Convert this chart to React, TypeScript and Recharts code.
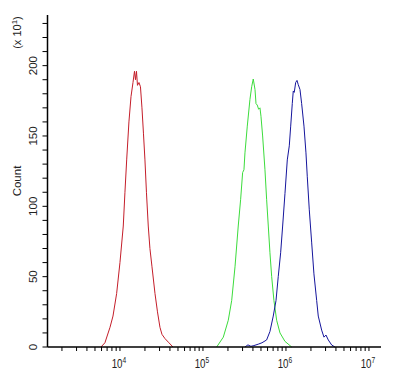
import { LineChart, Line, XAxis, YAxis } from "recharts"

// log10 of fluorescence intensity and count (x10^1) for each histogram
const redLog = [3.771, 3.819, 3.88, 3.916, 3.96, 4.0, 4.04, 4.06, 4.081, 4.108, 4.133, 4.157, 4.175, 4.187, 4.199, 4.211, 4.229, 4.247, 4.265, 4.283, 4.301, 4.319, 4.341, 4.361, 4.386, 4.422, 4.452, 4.482, 4.506, 4.542, 4.59, 4.639]
const redCount = [0, 3, 14, 22, 38, 60, 86, 110, 133, 160, 178, 188, 196, 190, 196, 186, 188, 185, 170, 152, 133, 110, 86, 70, 57, 38, 25, 14, 9, 6, 3, 0]

const greenLog = [5.165, 5.245, 5.305, 5.346, 5.386, 5.425, 5.454, 5.478, 5.494, 5.506, 5.534, 5.566, 5.587, 5.606, 5.627, 5.639, 5.654, 5.671, 5.687, 5.699, 5.719, 5.747, 5.767, 5.787, 5.807, 5.828, 5.855, 5.888, 5.928, 5.988, 6.069]
const greenCount = [0, 7, 19, 33, 57, 86, 105, 124, 126, 138, 157, 176, 185, 190.5, 183, 173, 172, 169, 170, 164, 150, 126, 105, 86, 67, 50, 33, 19, 10, 4, 0]

const blueLog = [5.506, 5.542, 5.578, 5.614, 5.666, 5.711, 5.767, 5.807, 5.847, 5.88, 5.907, 5.936, 5.96, 5.988, 6.016, 6.04, 6.057, 6.076, 6.088, 6.1, 6.117, 6.133, 6.148, 6.169, 6.189, 6.217, 6.241, 6.257, 6.281, 6.31, 6.337, 6.37, 6.389, 6.43, 6.458, 6.482, 6.51, 6.551, 6.59]
const blueCount = [0, 1.5, 0.5, 1, 2, 3, 5, 11, 22, 33, 50, 67, 86, 109, 133, 143, 157, 173, 182, 181, 188, 189.5, 186.5, 183, 173, 157, 138, 121, 97.5, 74, 52, 33, 22, 12, 7, 8.5, 5, 1.4, 0]

const decades = [3, 4, 5, 6, 7]
const steps = [1, 2, 3, 4, 5, 6, 7, 8, 9]
const yTicks = [0, 10, 20, 30, 40, 50, 60, 70, 80, 90, 100, 110, 120, 130, 140, 150, 160, 170, 180, 190, 200, 210, 220, 230]

const xMin = 10 ** 3.127
const xMax = 10 ** 7.145
const xTicks = decades.flatMap((d) => steps.map((k) => k * 10 ** d)).filter((v) => v >= xMin && v <= xMax)

const toPoints = (logs: number[], counts: number[]) => logs.map((l, i) => ({ x: 10 ** l, y: counts[i] }))

const font = "'Liberation Sans', Arial, sans-serif"

function XTick(props: any) {
  const { x, y, payload } = props
  const v = payload.value
  const e = Math.round(Math.log10(v))
  const major = Math.abs(v - 10 ** e) < v * 1e-6
  return (
    <g>
      <line x1={x} x2={x} y1={y} y2={y + 4} stroke="#000" strokeWidth={1} />
      {major && (
        <text
          transform={`translate(${x - 1},${y + 21.3}) scale(0.78,1)`}
          textAnchor="middle"
          fontSize={12.5}
          fontFamily={font}
          fill="#222"
        >
          <tspan>10</tspan>
          <tspan dy={-5} fontSize={8.5}>{e}</tspan>
        </text>
      )}
    </g>
  )
}

function YTick(props: any) {
  const { x, y, payload } = props
  const v = payload.value
  return (
    <g>
      <line x1={x - 5} x2={x} y1={y} y2={y} stroke="#000" strokeWidth={1} />
      {v % 50 === 0 && (
        <text transform={`translate(${x - 10.3},${y}) rotate(-90)`} textAnchor="middle" fontSize={11.5} fontFamily={font} fill="#222">
          {v}
        </text>
      )}
    </g>
  )
}

export default function App() {
  return (
    <div style={{ position: "absolute", left: 0, top: 0, width: 404, height: 377, background: "#fff" }}>
      <LineChart width={404} height={377} margin={{ top: 15, right: 23, bottom: 0, left: 0 }}>
        <XAxis
          dataKey="x"
          type="number"
          scale="log"
          domain={[xMin, xMax]}
          allowDataOverflow
          ticks={xTicks}
          interval={0}
          height={30}
          tickSize={0}
          tickMargin={0}
          tickLine={false}
          tick={<XTick />}
          axisLine={{ stroke: "#000", strokeWidth: 1.5 }}
        />
        <XAxis xAxisId="top" orientation="top" type="number" domain={[0, 1]} height={0} tick={false} tickLine={false} axisLine={{ stroke: "#000", strokeWidth: 1.5 }} />
        <YAxis
          type="number"
          domain={[0, 236]}
          ticks={yTicks}
          interval={0}
          width={47.5}
          tickSize={0}
          tickMargin={0}
          tickLine={false}
          tick={<YTick />}
          axisLine={{ stroke: "#000", strokeWidth: 1.5 }}
        />
        <YAxis yAxisId="right" orientation="right" type="number" domain={[0, 1]} width={0} tick={false} tickLine={false} axisLine={{ stroke: "#000", strokeWidth: 1.5 }} />
        <Line data={toPoints(redLog, redCount)} dataKey="y" type="linear" stroke="#c41e2a" strokeWidth={1} dot={false} isAnimationActive={false} />
        <Line data={toPoints(greenLog, greenCount)} dataKey="y" type="linear" stroke="#3cdc3c" strokeWidth={1} dot={false} isAnimationActive={false} />
        <Line data={toPoints(blueLog, blueCount)} dataKey="y" type="linear" stroke="#15159c" strokeWidth={1} dot={false} isAnimationActive={false} />
      </LineChart>
      <svg width={404} height={377} style={{ position: "absolute", left: 0, top: 0, pointerEvents: "none" }}>
        <text transform="translate(20.5,181) rotate(-90)" textAnchor="middle" fontSize={11.5} fontFamily={font} fill="#222">
          Count
        </text>
        <text transform="translate(21,32.5) rotate(-90)" textAnchor="middle" fontSize={11} fontFamily={font} fill="#222">
          <tspan>(x 10</tspan>
          <tspan dy={-4} fontSize={8}>1</tspan>
          <tspan dy={4}>)</tspan>
        </text>
      </svg>
    </div>
  )
}
